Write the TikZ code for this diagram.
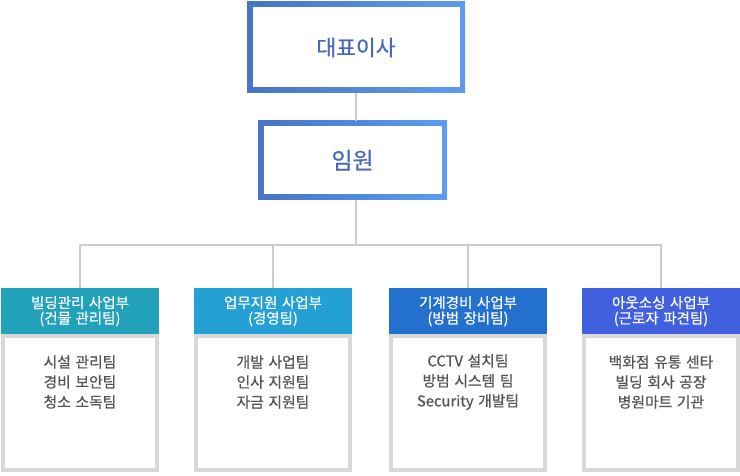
\documentclass[tikz,border=0pt]{standalone}
\usepackage{fontspec}
\setmainfont{Noto Sans CJK KR}
\newfontfamily\medfont{Noto Sans CJK KR}[FakeBold=0.7,WordSpace=1.4]

\definecolor{boxdark}{RGB}{70,116,198}
\definecolor{boxlight}{RGB}{94,156,240}
\definecolor{titleblue}{RGB}{72,106,182}
\definecolor{linegray}{RGB}{204,204,204}
\definecolor{bodygray}{RGB}{216,216,216}
\definecolor{textgray}{RGB}{85,85,85}
\definecolor{deptA}{RGB}{33,161,186}
\definecolor{deptB}{RGB}{37,160,212}
\definecolor{deptC}{RGB}{35,112,207}
\definecolor{deptD}{RGB}{64,96,224}

\tikzset{
  topbox/.style={rectangle, inner sep=0pt, left color=boxdark, right color=boxlight,
    text=titleblue,
    path picture={\fill[white] ([xshift=5.5pt,yshift=5.5pt]path picture bounding box.south west)
      rectangle ([xshift=-5.5pt,yshift=-5.5pt]path picture bounding box.north east);}},
  conn/.style={draw=linegray, line width=2pt},
  deptbox/.style={rectangle, inner sep=0pt, text=white, align=center,
    minimum width=158pt, minimum height=46pt, anchor=north,
    font=\medfont\fontsize{14.5}{15.5}\selectfont},
  bodybox/.style={rectangle, draw=bodygray, line width=4pt, fill=white,
    minimum width=154pt, minimum height=134pt, anchor=north},
  itemlist/.style={align=center, text=textgray, font=\medfont\fontsize{14.8}{20}\selectfont}
}

\begin{document}
\begin{tikzpicture}[x=1pt, y=-1pt]
\useasboundingbox (0,0) rectangle (740,476);

% Draw the two top boxes
\node[topbox, minimum width=218pt, minimum height=91pt, font=\medfont\fontsize{21.5}{24}\selectfont] (ceo) at (356,47.5) {대표이사};
\node[topbox, minimum width=189pt, minimum height=78.5pt, font=\medfont\fontsize{23}{26}\selectfont] (exec) at (352.5,160.25) {임원};
\draw[conn] (ceo.south) -- (ceo.south |- exec.north);

% branch point under the executive box
\coordinate (hub) at (356,245.5);
\draw[conn] (exec.south -| hub) -- (hub);

% draw the four departments:
\foreach \i/\cx/\col/\head/\items in {
  1/80/deptA/{빌딩관리 사업부\\(건물 관리팀)}/{시설 관리팀\\경비 보안팀\\청소 소독팀},
  2/273/deptB/{업무지원 사업부\\(경영팀)}/{개발 사업팀\\인사 지원팀\\자금 지원팀},
  3/468/deptC/{기계경비 사업부\\(방범 장비팀)}/{CCTV 설치팀\\방범 시스템 팀\\Security 개발팀},
  4/661/deptD/{아웃소싱 사업부\\(근로자 파견팀)}/{백화점 유통 센타\\빌딩 회사 공장\\병원마트 기관}}
{
  \node[bodybox] (body\i) at (\cx,334) {};
  \node[deptbox, fill=\col] (dept\i) at (\cx,288) {\head};
  \node[itemlist] (list\i) at (\cx,382) {\items};
  \draw[conn] (hub) -| (dept\i.north);
}
\end{tikzpicture}
\end{document}
